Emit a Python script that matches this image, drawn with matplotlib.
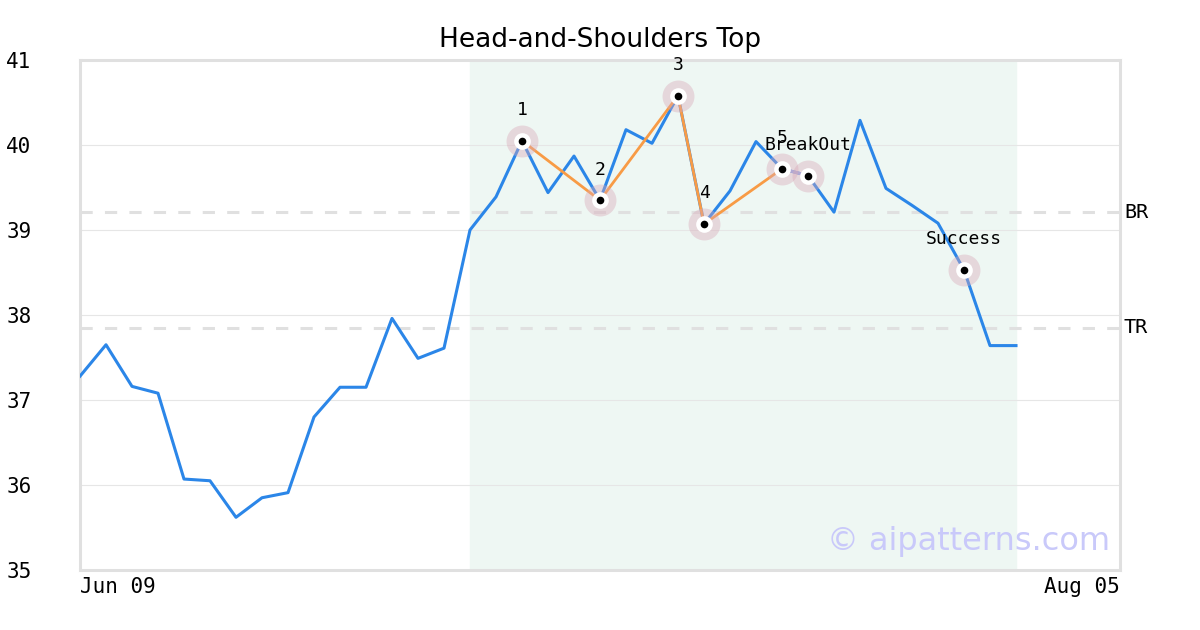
import numpy as np
import matplotlib.pyplot as plt

# Price series (one point per trading day, Jun 09 onward)
prices = [37.28, 37.65, 37.16, 37.08, 36.07, 36.05, 35.62, 35.85, 35.91, 36.80,
          37.15, 37.15, 37.96, 37.49, 37.61, 39.00, 39.39, 40.05, 39.44, 39.87,
          39.35, 40.18, 40.02, 40.58, 39.07, 39.46, 40.04, 39.72, 39.64, 39.21,
          40.29, 39.49, 39.29, 39.08, 38.53, 37.64, 37.64]

# Pattern points (index into prices)
pattern_idx = [17, 20, 23, 24, 27]
pattern_labels = ["1", "2", "3", "4", "5"]
breakout_idx = 28
success_idx = 34

# Levels
br_level = 39.21
tr_level = 37.85

# Pattern window and axis
window = (15, 36)
x_max = 40
x_tick_pos = [0, 40]
x_tick_labels = ["Jun 09", "Aug 05"]
y_ticks = [35, 36, 37, 38, 39, 40, 41]

mono = "DejaVu Sans Mono"

fig = plt.figure(figsize=(12, 6.3), dpi=100)
ax = fig.add_axes([80 / 1200, 1 - 570 / 630, 1040 / 1200, 510 / 630])

x = np.arange(len(prices))
y = np.array(prices)

ax.axvspan(window[0], window[1], color="#eef7f3", zorder=0)
for t in y_ticks:
    ax.axhline(t, color="#e6e6e6", lw=0.8, zorder=1)

for lvl, name in [(br_level, "BR"), (tr_level, "TR")]:
    ax.axhline(lvl, color="#e0e0e0", lw=2.2, dashes=(4, 4), zorder=1)
    ax.text(x_max + 0.15, lvl, name, fontsize=14.5, family=mono, va="center", ha="left")

ax.plot(x, y, color="#2b86e8", lw=2.2, zorder=3)

# orange pattern legs
ax.plot(pattern_idx, y[pattern_idx], color="#f89b45", lw=2.0, zorder=4)
ax.plot([pattern_idx[-1], breakout_idx], y[[pattern_idx[-1], breakout_idx]],
        color="#a5aee6", lw=2.2, alpha=0.9, zorder=4)

marker_idx = pattern_idx + [breakout_idx, success_idx]
marker_text = pattern_labels + ["BreakOut", "Success"]
for i, lab in zip(marker_idx, marker_text):
    ax.plot(i, y[i], "o", ms=23, color="#d9a9b8", alpha=0.4, mec="none", zorder=5)
    ax.plot(i, y[i], "o", ms=12, color="white", mec="none", zorder=6)
    ax.plot(i, y[i], "o", ms=5.5, color="black", mec="none", zorder=7)
    ax.annotate(lab, (i, y[i]), xytext=(0, 22), textcoords="offset points",
                ha="center", va="center", fontsize=13, family=mono, zorder=8)

ax.text(0.9905, 0.055, "\u00a9 aipatterns.com", transform=ax.transAxes,
        ha="right", va="center", fontsize=23, color="#c9c9fa", zorder=9)

ax.set_xlim(0, x_max)
ax.set_ylim(35, 41)
ax.set_yticks(y_ticks)
ax.set_yticklabels([str(t) for t in y_ticks], family=mono, fontsize=15)
ax.set_xticks(x_tick_pos)
ax.set_xticklabels(x_tick_labels, family=mono, fontsize=15)
ax.get_xticklabels()[0].set_ha("left")
ax.get_xticklabels()[1].set_ha("right")
ax.tick_params(axis="y", length=0, pad=35)
ax.tick_params(axis="x", length=0, pad=5)

for s in ax.spines.values():
    s.set_color("#e0e0e0")
    s.set_linewidth(2.2)

fig.text(0.5, 1 - 40 / 630, "Head-and-Shoulders Top", ha="center", va="center", fontsize=19)

fig.savefig("out.png", dpi=100)
